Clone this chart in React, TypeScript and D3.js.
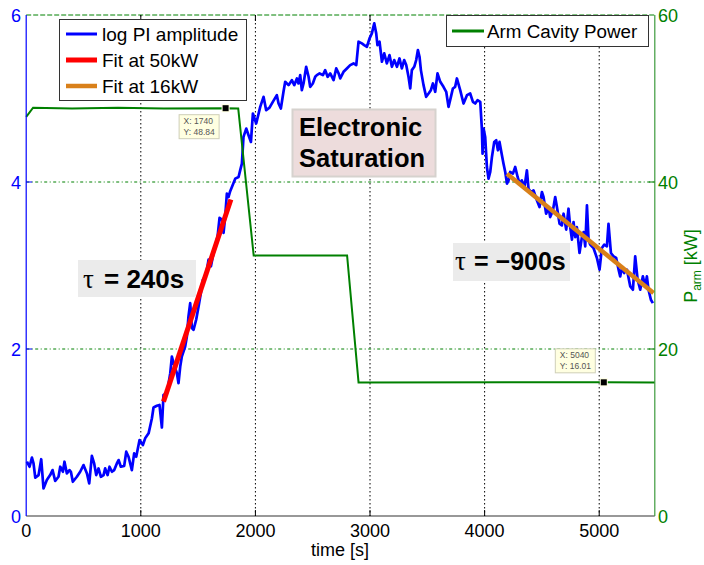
import React from "react";
import * as d3 from "d3";

// ---------- data ----------
const xTicks = [0, 1000, 2000, 3000, 4000, 5000];
const leftTicks = [0, 2, 4, 6];
const rightTicks = [0, 20, 40, 60];

// log PI amplitude [time (s), value]
const blueSeries: [number, number][] = [
  [6, 0.65], [29, 0.59], [50, 0.7], [64, 0.63], [79, 0.46], [108, 0.49], [131, 0.68], [151, 0.33],
  [180, 0.43], [209, 0.49], [230, 0.55], [253, 0.42], [282, 0.47], [297, 0.59], [320, 0.53], [334, 0.65],
  [355, 0.51], [378, 0.55], [390, 0.53], [407, 0.41], [442, 0.47], [471, 0.53], [500, 0.61], [530, 0.51],
  [550, 0.39], [573, 0.72], [593, 0.63], [611, 0.49], [631, 0.57], [652, 0.47], [675, 0.49], [689, 0.57],
  [710, 0.49], [727, 0.59], [748, 0.53], [768, 0.55], [791, 0.63], [806, 0.67], [826, 0.59], [855, 0.6],
  [873, 0.77], [893, 0.71], [922, 0.55], [942, 0.75], [960, 0.71], [989, 0.91], [1018, 0.85], [1038, 0.93],
  [1068, 0.99], [1097, 1.17], [1111, 1.3], [1140, 1.32], [1163, 1.33], [1184, 1.06], [1198, 1.45], [1228, 1.47],
  [1257, 1.71], [1271, 1.91], [1286, 1.83], [1315, 1.71], [1329, 1.59], [1344, 1.79], [1358, 1.91], [1387, 2.03],
  [1402, 2.15], [1416, 2.39], [1431, 2.55], [1446, 2.25], [1460, 2.23], [1483, 2.35], [1504, 2.51], [1524, 2.67],
  [1542, 2.83], [1562, 2.87], [1577, 2.95], [1591, 3.07], [1612, 2.99], [1629, 3.11], [1649, 3.23], [1670, 3.35],
  [1687, 3.57], [1708, 3.55], [1722, 3.39], [1736, 3.58], [1751, 3.86], [1765, 3.82], [1780, 3.89], [1795, 3.94],
  [1824, 4.04], [1853, 4.06], [1867, 4.14], [1882, 4.22], [1896, 4.54], [1920, 4.64], [1940, 4.56], [1961, 4.48],
  [1978, 4.82], [2007, 4.7], [2042, 4.9], [2071, 5.02], [2094, 4.86], [2123, 4.89], [2152, 4.96], [2187, 5.04],
  [2202, 4.94], [2222, 4.88], [2245, 5.08], [2260, 5.2], [2289, 5.16], [2318, 5.22], [2339, 5.16], [2362, 5.24],
  [2376, 5.18], [2391, 5.28], [2405, 5.1], [2420, 5.18], [2443, 5.38], [2464, 5.26], [2478, 5.14], [2501, 5.18],
  [2522, 5.26], [2536, 5.28], [2560, 5.3], [2589, 5.28], [2609, 5.34], [2630, 5.26], [2653, 5.3], [2682, 5.22],
  [2705, 5.36], [2726, 5.3], [2740, 5.24], [2769, 5.32], [2798, 5.36], [2827, 5.4], [2856, 5.42], [2880, 5.4],
  [2900, 5.68], [2929, 5.66], [2949, 5.64], [2973, 5.62], [2996, 5.72], [3016, 5.78], [3037, 5.9], [3054, 5.78],
  [3065, 5.64], [3083, 5.68], [3104, 5.44], [3124, 5.54], [3147, 5.42], [3170, 5.52], [3191, 5.38], [3211, 5.46],
  [3235, 5.38], [3257, 5.48], [3278, 5.36], [3298, 5.46], [3316, 5.4], [3336, 5.26], [3351, 5.12], [3365, 5.34],
  [3386, 5.38], [3403, 5.46], [3418, 5.58], [3432, 5.5], [3444, 5.34], [3467, 5.16], [3490, 5.02], [3511, 5.06],
  [3531, 5.1], [3549, 5.18], [3569, 5.08], [3589, 5.3], [3613, 5.2], [3641, 5.14], [3665, 5.08], [3685, 4.9],
  [3706, 5.02], [3723, 5.12], [3743, 5.14], [3758, 5.24], [3787, 5.1], [3816, 4.94], [3846, 5.04], [3874, 5.06],
  [3898, 4.96], [3918, 4.94], [3938, 4.98], [3962, 4.96], [3976, 4.64], [3982, 4.34], [3991, 4.64], [4005, 4.54],
  [4020, 4.18], [4034, 4.04], [4049, 4.12], [4064, 4.3], [4084, 4.48], [4101, 4.5], [4116, 4.38], [4130, 4.48],
  [4151, 4.32], [4165, 4.22], [4180, 4.12], [4195, 3.98], [4209, 4.02], [4223, 4.12], [4247, 4.1], [4267, 4.18],
  [4288, 4.06], [4305, 3.98], [4325, 4.02], [4346, 3.92], [4369, 4.14], [4383, 3.92], [4404, 3.88], [4427, 3.9],
  [4456, 3.78], [4479, 3.7], [4500, 3.88], [4514, 3.82], [4537, 3.62], [4558, 3.7], [4572, 3.58], [4596, 3.66],
  [4616, 3.82], [4631, 3.7], [4654, 3.5], [4674, 3.48], [4689, 3.62], [4712, 3.43], [4732, 3.68], [4747, 3.46],
  [4762, 3.31], [4776, 3.52], [4791, 3.34], [4805, 3.46], [4828, 3.15], [4849, 3.34], [4863, 3.4], [4878, 3.23],
  [4893, 3.72], [4907, 3.31], [4921, 3.25], [4950, 3.21], [4980, 3.09], [5003, 2.95], [5023, 3.21], [5044, 3.25],
  [5067, 3.23], [5081, 3.5], [5102, 3.15], [5125, 3.11], [5148, 3.09], [5169, 2.95], [5183, 2.87], [5198, 2.97],
  [5218, 2.91], [5242, 2.95], [5271, 2.75], [5294, 2.71], [5314, 3.11], [5335, 2.83], [5358, 2.71], [5381, 2.87],
  [5401, 2.75], [5416, 2.87], [5430, 2.71], [5451, 2.59], [5468, 2.55],
];

// arm cavity power [time (s), kW]
const powerSeries: [number, number][] = [
  [0, 47.8], [60, 48.9], [400, 48.8], [800, 48.9], [1200, 48.8], [1740, 48.84], [1850, 48.8],
  [1985, 31.2], [2800, 31.2], [2900, 16.0], [5040, 16.01], [5485, 16.0],
];

const fit50Times = [1198, 1786];
const fit50Values = [1.37, 3.79];
const fit16Times = [4195, 5474];
const fit16Values = [4.1, 2.67];

const tipTimes = [1740, 5040];
const tipPowers = [48.84, 16.01];
const tipLabels = [["X: 1740", "Y: 48.84"], ["X: 5040", "Y: 16.01"]];

const legendLeft = ["log PI amplitude", "Fit at 50kW", "Fit at 16kW"];
const legendRight = ["Arm Cavity Power"];

// ---------- styles ----------
const BLUE = "#0000ff";
const RED = "#ff0000";
const ORANGE = "#d9801a";
const GREEN = "#008000";
const FONT = "'Liberation Sans', Arial, Helvetica, sans-serif";
const SERIF = "'Liberation Serif', 'Times New Roman', serif";

export default function App() {
  const x = d3.scaleLinear().domain([0, 5485]).range([26.2, 654.8]);
  const yL = d3.scaleLinear().domain([0, 6]).range([516, 15]);
  const yR = d3.scaleLinear().domain([0, 60]).range([516, 15]);

  const left = x.range()[0];
  const right = x.range()[1];
  const top = yL.range()[1];
  const bottom = yL.range()[0];

  const blueLine = d3.line<[number, number]>().x((d) => x(d[0])).y((d) => yL(d[1]));
  const greenLine = d3.line<[number, number]>().x((d) => x(d[0])).y((d) => yR(d[1]));
  const fit50: [number, number][] = fit50Times.map((t, i) => [t, fit50Values[i]]);
  const fit16: [number, number][] = fit16Times.map((t, i) => [t, fit16Values[i]]);

  const legendColors = [BLUE, RED, ORANGE];
  const legendWidths = [3, 5, 4.5];

  return (
    <svg
      width={704}
      height={565}
      style={{ position: "absolute", left: 0, top: 0, background: "#fff", fontFamily: FONT }}
    >
      <rect x={0} y={0} width={704} height={565} fill="#fff" />

      {/* vertical grid */}
      {xTicks.slice(1).map((t) => (
        <line key={"vg" + t} x1={x(t)} x2={x(t)} y1={top} y2={bottom} stroke="#000" strokeWidth={1} strokeDasharray="1.5,2.5" />
      ))}
      {/* horizontal grid (right axis) */}
      {rightTicks.slice(1, 3).map((v) => (
        <line key={"hg" + v} x1={left} x2={right} y1={yR(v)} y2={yR(v)} stroke={GREEN} strokeWidth={1} strokeDasharray="3,2.5,1,2.5" />
      ))}

      {/* data */}
      <path d={blueLine(blueSeries) || ""} fill="none" stroke={BLUE} strokeWidth={2.7} strokeLinejoin="round" />
      <path d={blueLine(fit50) || ""} fill="none" stroke={RED} strokeWidth={5} />
      <path d={blueLine(fit16) || ""} fill="none" stroke={ORANGE} strokeWidth={4.5} />
      <path d={greenLine(powerSeries) || ""} fill="none" stroke={GREEN} strokeWidth={2} />

      {/* axes */}
      <line x1={left} x2={right} y1={top} y2={top} stroke={GREEN} strokeWidth={1} strokeDasharray="5,2" />
      <line x1={left} x2={right} y1={bottom} y2={bottom} stroke="#333" strokeWidth={1.2} />
      <line x1={left} x2={left} y1={top} y2={bottom} stroke={BLUE} strokeWidth={1.2} />
      <line x1={right} x2={right} y1={top} y2={bottom} stroke="#3c9a3c" strokeWidth={1.2} />
      {xTicks.slice(1).map((t) => (
        <g key={"xt" + t}>
          <line x1={x(t)} x2={x(t)} y1={bottom} y2={bottom - 6} stroke="#000" strokeWidth={1} />
          <line x1={x(t)} x2={x(t)} y1={top} y2={top + 6} stroke="#000" strokeWidth={1} />
        </g>
      ))}
      {rightTicks.slice(1, 3).map((v) => (
        <g key={"rt" + v}>
          <line x1={right} x2={right - 6} y1={yR(v)} y2={yR(v)} stroke={GREEN} strokeWidth={1} />
          <line x1={left} x2={left + 6} y1={yR(v)} y2={yR(v)} stroke={BLUE} strokeWidth={1} />
        </g>
      ))}

      {/* tick labels */}
      {xTicks.map((t) => (
        <text key={"xl" + t} x={x(t)} y={537} textAnchor="middle" fontSize={18} fill="#000">
          {t}
        </text>
      ))}
      {leftTicks.map((v) => (
        <text key={"ll" + v} x={21} y={yL(v) + 6.5} textAnchor="end" fontSize={18} fill={BLUE}>
          {v}
        </text>
      ))}
      {rightTicks.map((v) => (
        <text key={"rl" + v} x={658} y={yR(v) + 6.5} textAnchor="start" fontSize={18} fill={GREEN}>
          {v}
        </text>
      ))}
      <text x={340} y={556} textAnchor="middle" fontSize={18} fill="#000">
        time [s]
      </text>
      <text transform="translate(697,266) rotate(-90)" textAnchor="middle" fontSize={18} fill={GREEN}>
        P<tspan fontSize={12} dy={4}>arm</tspan>
        <tspan dy={-4}> [kW]</tspan>
      </text>

      {/* annotation boxes */}
      <rect x={292.5} y={109.5} width={143} height={67} fill="#eddcdc" stroke="#d6d2ce" strokeWidth={2} />
      <text x={299} y={136} fontSize={25.5} fontWeight="bold" fill="#000">
        Electronic
      </text>
      <text x={299} y={167} fontSize={25.5} fontWeight="bold" fill="#000">
        Saturation
      </text>

      <rect x={78} y={260} width={118} height={37} fill="#ebebeb" />
      <text x={83} y={288} fontSize={27} fontFamily={SERIF} fill="#000">
        τ
      </text>
      <text x={104} y={288} fontSize={26} fontWeight="bold" fill="#000">
        = 240s
      </text>

      <rect x={453} y={243} width={117} height={38} fill="#ebebeb" />
      <text x={455} y={270} fontSize={27} fontFamily={SERIF} fill="#000">
        τ
      </text>
      <text x={474} y={270} fontSize={25} fontWeight="bold" fill="#000">
        = −900s
      </text>

      {/* legends */}
      <rect x={59.5} y={19.5} width={187} height={81} fill="#fff" stroke="#333" strokeWidth={1} />
      {legendLeft.map((name, i) => (
        <g key={"lg" + i}>
          <line x1={66} x2={97} y1={34 + i * 26} y2={34 + i * 26} stroke={legendColors[i]} strokeWidth={legendWidths[i]} />
          <text x={102} y={40.5 + i * 26} fontSize={19} fill="#000">
            {name}
          </text>
        </g>
      ))}
      <rect x={446.5} y={15.5} width={202} height={31} fill="#fff" stroke="#333" strokeWidth={1} />
      {legendRight.map((name, i) => (
        <g key={"lr" + i}>
          <line x1={452} x2={484} y1={31} y2={31} stroke={GREEN} strokeWidth={3} />
          <text x={487} y={37.5} fontSize={18.8} fill="#000">
            {name}
          </text>
        </g>
      ))}

      {/* data tips */}
      {tipTimes.map((t, i) => {
        const cx = x(t);
        const cy = yR(tipPowers[i]);
        const bx = i === 0 ? cx - 47 : cx - 49;
        const by = i === 0 ? cy + 6 : cy - 34;
        return (
          <g key={"tip" + i}>
            <rect x={cx - 4} y={cy - 4} width={8} height={8} fill="#ffffe0" />
            <rect x={cx - 3} y={cy - 3} width={6} height={6} fill="#000" />
            <rect x={bx + 0.5} y={by + 0.5} width={40} height={24} fill="#ffffe1" stroke="#cfcfb8" strokeWidth={1} />
            <text x={bx + 5} y={by + 10} fontSize={8.5} fill="#555">
              {tipLabels[i][0]}
            </text>
            <text x={bx + 5} y={by + 20.5} fontSize={8.5} fill="#555">
              {tipLabels[i][1]}
            </text>
          </g>
        );
      })}
    </svg>
  );
}
